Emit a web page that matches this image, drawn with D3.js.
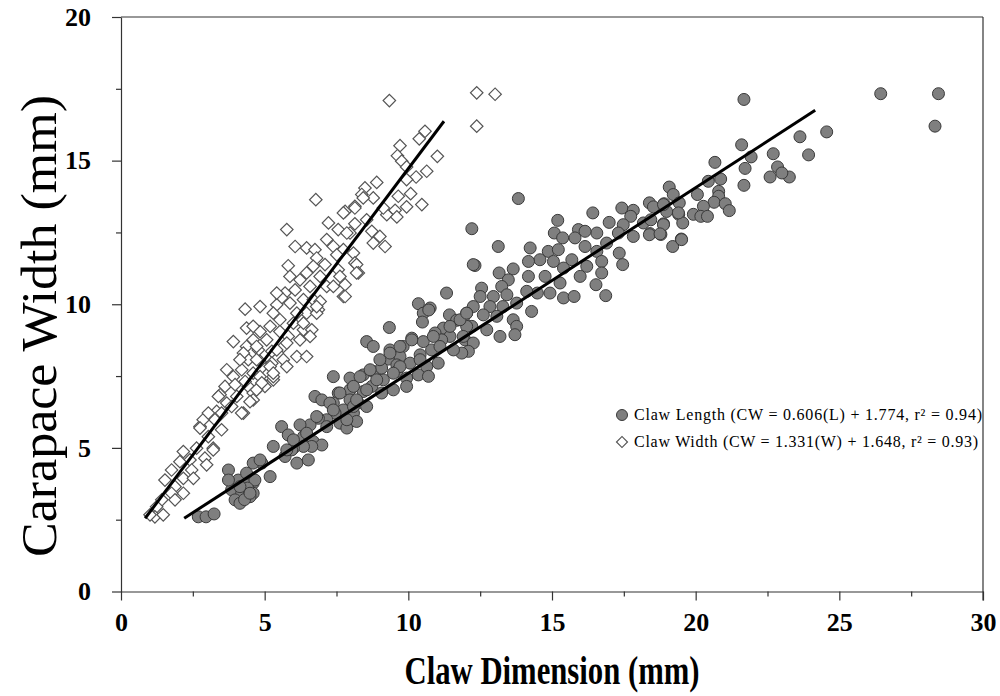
<!DOCTYPE html>
<html>
<head>
<meta charset="utf-8">
<script src="https://cdn.jsdelivr.net/npm/d3@7"></script>
<style>
  body { margin: 0; background: #fff; }
  svg { display: block; font-family: "Liberation Serif", "Times New Roman", serif; }
</style>
</head>
<body>
<div id="chart"></div>
<script>
// claw length vs carapace width (filled circles)
const clawLength = [
  [21.68,17.13],[26.44,17.33],[28.45,17.33],[28.33,16.2],[24.56,16.0],[23.63,15.83],[23.93,15.2],[22.7,15.24],
  [22.85,14.78],[22.59,14.43],[23.26,14.43],[23.0,14.57],[21.6,15.55],[21.93,15.13],[21.72,14.73],[21.68,14.14],
  [20.67,14.94],[20.87,14.36],[20.44,14.28],[19.08,14.08],[19.22,13.82],[20.06,13.82],[20.8,13.93],[20.8,13.76],
  [20.64,13.55],[21.03,13.5],[21.17,13.26],[20.27,13.41],[19.92,13.13],[20.18,13.06],[20.41,13.06],[18.39,13.53],
  [18.53,13.39],[18.9,13.5],[19.43,13.53],[18.99,13.23],[19.41,13.13],[19.55,12.83],[18.88,12.8],[18.41,12.46],
  [18.79,12.43],[19.5,12.27],[19.2,12.01],[18.18,12.83],[18.44,12.94],
  [13.83,13.68],[12.21,12.63],[13.13,12.01],[12.32,11.35],[14.24,11.96],[15.2,12.92],[16.42,13.18],[16.99,12.85],
  [17.43,13.35],[17.83,13.27],[18.88,13.47],[19.4,13.18],[18.88,12.77],[18.39,12.42],[18.76,12.45],[19.51,12.25],
  [17.74,13.06],[17.48,12.77],[17.31,12.48],[17.83,12.36],[17.34,11.78],[17.46,11.38],[16.9,12.13],[16.56,12.48],
  [15.92,12.6],[16.15,12.54],[15.8,12.31],[16.15,12.01],[16.56,11.84],[16.73,11.49],[16.21,11.32],[16.73,11.09],
  [15.98,10.97],[16.53,10.68],[16.87,10.3],[15.08,12.48],[15.37,12.31],[14.87,11.84],[15.22,11.9],[14.58,11.55],
  [14.18,11.49],[15.05,11.49],[15.69,11.55],[15.4,11.26],[13.65,11.23],[13.16,11.09],[14.18,10.97],[14.76,10.97],
  [13.48,10.85],[15.28,10.74],[15.4,10.22],[15.77,10.27],[14.93,10.39],[14.49,10.39],[14.12,10.45],[13.25,10.62],
  [12.55,10.56],[12.5,10.27],[12.96,10.27],[13.43,10.33],[13.77,10.04],[14.29,9.75],[13.29,9.92],[12.84,9.92],
  [12.26,9.92],[12.03,9.69],[12.61,9.63],[13.08,9.58],[13.65,9.46],[13.77,9.23],[13.71,8.94],[13.19,8.88],
  [12.73,9.11],[12.21,9.23],[11.91,9.46],[11.97,8.76],[12.26,8.65],[12.09,8.36],
  [10.35,10.02],[10.76,9.87],[10.52,9.69],[10.49,9.38],[9.34,9.19],[8.55,8.7],[8.78,8.53],[11.43,9.63],
  [11.68,9.44],[12.03,9.23],[11.22,9.17],[10.93,9.0],[11.45,8.88],[11.91,8.88],[11.86,8.3],[11.57,8.41],
  [11.16,8.76],[10.52,8.7],[10.12,8.82],[9.82,8.53],[9.36,8.41],[9.71,8.18],[9.3,8.09],[9.6,7.89],
  [9.6,7.66],[10.06,7.95],[10.41,8.24],[10.81,8.41],[11.04,7.95],[10.64,7.83],[10.35,7.54],[10.7,7.49],
  [9.94,7.43],[9.94,7.14],[9.13,7.37],[8.78,7.66],[8.43,7.54],[9.07,7.78],[8.73,7.14],[9.07,6.91],
  [9.48,7.02],[8.43,6.96],[7.97,7.43],[7.39,7.48],[7.56,6.91],[7.97,7.02],[7.97,6.67],[8.26,6.56],
  [8.55,6.44],[8.09,6.21],[7.74,6.32],[7.39,6.56],[7.45,6.21],[7.16,5.98],[7.62,5.86],[7.86,5.69],
  [8.2,5.92],[6.75,6.79],[6.99,6.67],[6.87,6.03],[6.58,5.8],[6.23,5.8],[5.59,5.74],[5.82,5.45],
  [6.35,5.39],[6.69,5.22],[6.99,5.1],[6.64,5.05],[6.35,5.05],[6.0,4.99],[6.12,4.47],[6.52,4.58],
  [5.19,4.0],[4.9,4.47],[4.6,4.47],[4.6,3.77],[4.6,3.42],[11.33,10.39],[12.26,11.38],[10.71,9.8],
  [3.74,4.23],[4.08,3.88],[4.43,3.77],[3.85,3.54],[4.2,3.42],[3.97,3.19],[4.49,3.3],[4.14,3.07],
  [4.66,3.88],[2.69,2.6],[2.96,2.6],[3.24,2.7],[3.74,3.88],[5.71,4.7],[5.94,4.93],[4.4,3.6],[4.3,3.2],
  [9.71,8.53],[10.12,8.76],[9.36,8.3],[9.01,8.07],[8.67,7.72],[8.32,7.48],[8.09,7.14],[7.62,6.91],
  [7.27,6.56],[6.81,6.09],[7.39,6.32],[8.09,6.44],[7.86,5.98],[7.16,5.74],[6.46,5.51],[6.0,5.28],
  [5.77,4.93],[5.3,5.05],[4.84,4.58],[4.37,4.12],[4.14,3.65],[4.49,3.42],[10.87,8.88],[11.45,9.23],
  [11.8,9.46],[12.03,9.69],[11.1,8.53],[10.41,8.07],[9.71,7.83],[9.48,7.6],[8.9,7.37],[8.55,7.02],[8.2,6.67]
];

// claw width vs carapace width (open diamonds)
const clawWidth = [
  [9.34,17.09],[10.58,16.02],[10.38,15.76],[11.01,15.15],[9.71,15.52],[9.62,15.17],[9.77,14.98],[9.94,14.78],
  [10.64,14.63],[10.27,14.43],[9.94,14.34],[8.9,14.24],[8.49,14.05],[8.38,13.82],[8.78,13.7],[10.08,13.85],
  [9.65,13.76],[9.94,13.39],[10.47,13.47],[9.54,13.27],[9.25,13.12],[9.6,13.04],[9.13,13.35],[8.14,13.41],
  [7.8,13.23],[8.14,12.8],[8.55,12.94],[9.01,12.36],[8.78,12.13],[9.19,12.01],[7.97,12.48],[8.09,11.78],
  [8.14,11.44],[7.74,11.9],[8.73,12.54],[12.38,17.36],[12.38,16.2],[13.02,17.31],
  [6.78,13.64],[5.77,12.6],[6.06,12.01],[5.82,11.34],[6.46,11.96],[6.75,11.9],[7.22,12.83],[7.74,13.18],
  [8.14,13.35],[8.43,13.7],[7.56,12.6],[7.16,12.25],[7.86,12.48],[7.39,12.01],[6.81,11.61],[7.1,11.38],
  [7.51,11.72],[8.2,11.38],[8.26,11.09],[7.8,10.68],[7.74,10.27],[7.56,11.2],[6.69,11.32],[6.46,11.09],
  [6.93,10.97],[7.16,10.62],[6.58,10.62],[6.23,10.85],[6.06,10.5],[5.71,10.39],[5.59,10.22],[5.88,10.04],
  [6.35,10.16],[6.69,10.16],[6.87,9.81],[6.46,9.69],[6.12,9.69],[5.42,9.98],[5.3,9.69],[5.53,9.46],
  [6.0,9.34],[6.35,9.11],[6.64,9.11],[6.23,8.76],[5.82,8.88],[5.53,9.05],[5.19,9.23],[4.84,9.05],
  [5.07,8.76],[4.6,8.76],[4.37,8.53],[4.78,8.41],[5.25,8.36],[5.65,8.53],[5.65,8.07],[5.25,7.95],
  [4.84,8.01],[4.43,8.07],[4.2,7.72],[4.6,7.6],[5.07,7.54],[3.91,7.48],[4.32,9.83],[4.37,9.17],
  [3.91,8.7],[4.26,8.3],[3.62,7.14],[5.3,7.37],[4.84,7.14],[4.43,7.14],
  [6.35,9.34],[6.81,9.69],[6.58,8.88],[5.77,8.65],[5.42,8.41],[5.19,7.83],[4.84,7.48],[5.3,7.48],
  [4.6,6.91],[4.6,6.67],[5.01,7.14],[4.72,8.07],[6.93,10.1],
  [2.75,5.74],[3.33,6.27],[3.68,6.56],[4.03,6.79],[4.26,6.21],[4.72,7.02],[3.45,6.85],[6.12,8.18],
  [6.46,8.18],[5.3,7.6],[5.77,7.83],[7.8,10.27],[7.39,10.62],[8.2,11.09],[7.62,10.97],[6.81,9.92],
  [5.88,10.97],[5.42,10.39],[4.84,9.92],[4.6,9.23],[4.72,8.53],[4.14,8.07],[3.68,7.72],
  [3.97,7.2],[4.32,7.31],[4.9,7.26],[3.39,6.79],[4.49,6.61],[4.2,6.21],[3.85,6.44],[3.5,6.21],
  [3.27,5.98],[2.86,5.98],[2.75,5.69],[3.5,5.63],[3.04,5.39],[2.63,4.99],[3.21,4.99],[2.92,4.64],
  [2.98,4.41],[2.4,4.58],[2.05,4.52],[1.76,4.23],[2.46,4.23],[2.17,3.94],[2.52,3.94],[1.53,3.88],
  [1.88,3.65],[2.17,3.42],[1.76,3.42],[1.42,3.19],[1.88,3.19],[1.24,2.95],[1.18,2.6],[1.47,2.67],
  [1.01,2.67],[3.04,6.21],[2.17,4.87],[3.21,4.93]
];

// fitted lines as drawn (start and end)
const fitLength = [[2.2, 2.55], [24.16, 16.75]];
const fitWidth = [[0.84, 2.55], [11.24, 16.37]];

const xTicks = [0, 5, 10, 15, 20, 25, 30];
const xMinor = [2.5, 7.5, 12.5, 17.5, 22.5, 27.5];
const yTicks = [0, 5, 10, 15, 20];
const yMinor = [2.5, 7.5, 12.5, 17.5];
const legendLabels = [
  "Claw Length (CW = 0.606(L) + 1.774, r\u00B2 = 0.94)",
  "Claw Width (CW = 1.331(W) + 1.648, r\u00B2 = 0.93)"
];

const width = 1000, height = 696;
const margin = {top: 17, right: 17, bottom: 104.5, left: 121};

const x = d3.scaleLinear().domain([0, 30]).range([margin.left, width - margin.right]);
const y = d3.scaleLinear().domain([0, 20]).range([height - margin.bottom, margin.top]);

const svg = d3.select('#chart').append('svg')
  .attr('width', width)
  .attr('height', height);

const axisColor = '#333';

// axes: major ticks with labels, then short minor ticks
svg.append('g')
  .attr('transform', `translate(0,${y(0)})`)
  .call(d3.axisBottom(x).tickValues(xTicks).tickSize(9).tickSizeOuter(0).tickPadding(12));
svg.append('g')
  .attr('transform', `translate(0,${y(0)})`)
  .call(d3.axisBottom(x).tickValues(xMinor).tickSize(5).tickFormat(''))
  .call(g => g.select('.domain').remove());

svg.append('g')
  .attr('transform', `translate(${x(0)},0)`)
  .call(d3.axisLeft(y).tickValues(yTicks).tickSize(9).tickSizeOuter(0).tickPadding(21));
svg.append('g')
  .attr('transform', `translate(${x(0)},0)`)
  .call(d3.axisLeft(y).tickValues(yMinor).tickSize(5).tickFormat(''))
  .call(g => g.select('.domain').remove());

// frame top and right
svg.append('line')
  .attr('x1', x(0)).attr('x2', x(30)).attr('y1', y(20)).attr('y2', y(20))
  .attr('stroke', axisColor).attr('stroke-width', 1.2);
svg.append('line')
  .attr('x1', x(30)).attr('x2', x(30)).attr('y1', y(20)).attr('y2', y(0) + 9)
  .attr('stroke', axisColor).attr('stroke-width', 1.2);

svg.selectAll('.domain, .tick line').attr('stroke', axisColor).attr('stroke-width', 1.2);
svg.selectAll('g[font-size]').attr('font-size', 26).attr('font-family', '"Liberation Serif", "Times New Roman", serif');
svg.selectAll('.tick text')
  .attr('font-size', 26)
  .attr('font-weight', 'bold')
  .attr('fill', '#000');

// points
const diamond = d3.symbol().type(d3.symbolSquare).size(78);
svg.append('g').selectAll('path')
  .data(clawWidth)
  .join('path')
  .attr('d', diamond)
  .attr('transform', d => `translate(${x(d[0])},${y(d[1])}) rotate(45)`)
  .attr('fill', '#fff')
  .attr('stroke', '#555')
  .attr('stroke-width', 1.2);

svg.append('g').selectAll('circle')
  .data(clawLength)
  .join('circle')
  .attr('cx', d => x(d[0]))
  .attr('cy', d => y(d[1]))
  .attr('r', 6)
  .attr('fill', '#7f7f7f')
  .attr('stroke', '#3a3a3a')
  .attr('stroke-width', 1);

// regression lines
const line = d3.line().x(d => x(d[0])).y(d => y(d[1]));
[fitWidth, fitLength].forEach(f => {
  svg.append('path')
    .attr('d', line(f))
    .attr('fill', 'none')
    .attr('stroke', '#000')
    .attr('stroke-width', 3);
});

// legend
const legend = svg.append('g').attr('transform', 'translate(622,415)');
legend.append('circle')
  .attr('r', 5.5).attr('fill', '#7f7f7f').attr('stroke', '#3a3a3a');
legend.append('path')
  .attr('d', d3.symbol().type(d3.symbolSquare).size(60))
  .attr('transform', 'translate(0,27) rotate(45)')
  .attr('fill', '#fff').attr('stroke', '#555').attr('stroke-width', 1.2);
legend.selectAll('text')
  .data(legendLabels)
  .join('text')
  .attr('x', 12)
  .attr('y', (d, i) => 5 + i * 27)
  .attr('textLength', (d, i) => i === 0 ? 348 : 344)
  .attr('lengthAdjust', 'spacing')
  .style('font-size', '16px')
  .text(d => d);

// axis titles
svg.append('text')
  .attr('x', (x(0) + x(30)) / 2)
  .attr('y', 684)
  .attr('text-anchor', 'middle')
  .attr('textLength', 295)
  .attr('lengthAdjust', 'spacingAndGlyphs')
  .style('font-size', '40px')
  .style('font-weight', 'bold')
  .text('Claw Dimension (mm)');

svg.append('text')
  .attr('transform', `translate(56,326) rotate(-90)`)
  .attr('text-anchor', 'middle')
  .attr('textLength', 462)
  .attr('lengthAdjust', 'spacingAndGlyphs')
  .style('font-size', '50px')
  .text('Carapace Width (mm)');
</script>
</body>
</html>
